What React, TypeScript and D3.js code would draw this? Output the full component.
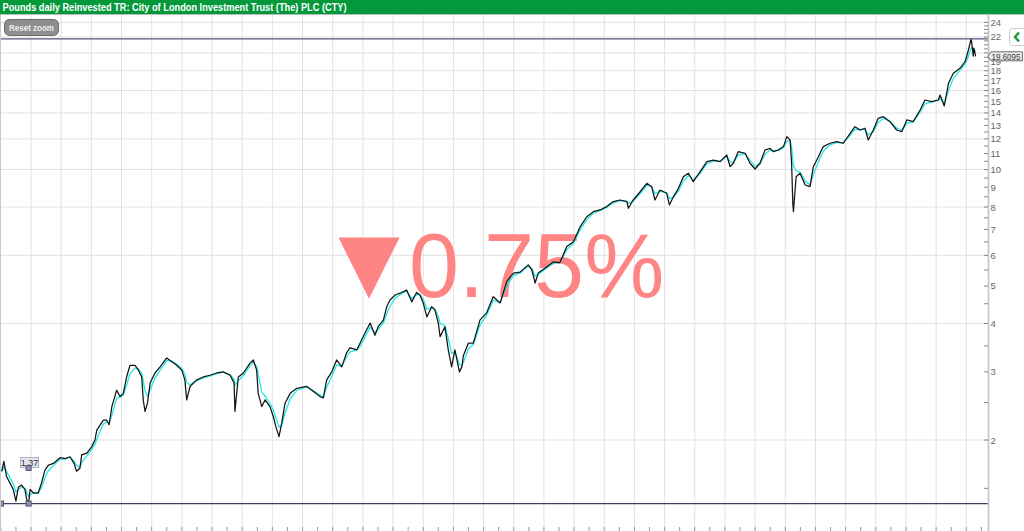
import React from "react";
import * as d3 from "d3";

const title = "Pounds daily Reinvested TR: City of London Investment Trust (The) PLC (CTY)";
const resetLabel = "Reset zoom";
const changeText = "0.75%";
const changeArrow = "▼";

// decimal years
const years = [
  1994.03, 1994.10, 1994.19, 1994.30, 1994.41, 1994.50, 1994.58, 1994.69, 1994.80, 1994.86,
  1994.92, 1994.97, 1995.08, 1995.24, 1995.35, 1995.46, 1995.57, 1995.74, 1995.96, 1996.13,
  1996.29, 1996.43, 1996.51, 1996.62, 1996.68, 1996.85, 1997.01, 1997.12, 1997.18, 1997.40,
  1997.51, 1997.59, 1997.68, 1997.84, 1997.95, 1998.06, 1998.17, 1998.28, 1998.45, 1998.56,
  1998.67, 1998.72, 1998.78, 1998.86, 1998.95, 1999.11, 1999.28, 1999.50, 1999.66, 1999.83,
  2000.00, 2000.10, 2000.16, 2000.27, 2000.49, 2000.71, 2000.93, 2001.16, 2001.37, 2001.60,
  2001.73, 2001.76, 2001.87, 2002.04, 2002.26, 2002.37, 2002.48, 2002.53, 2002.65, 2002.76,
  2002.92, 2003.03, 2003.12, 2003.22, 2003.31, 2003.42, 2003.59, 2003.81, 2004.14, 2004.36,
  2004.58, 2004.69, 2004.80, 2004.97, 2005.13, 2005.30, 2005.46, 2005.57, 2005.80, 2005.91,
  2006.07, 2006.24, 2006.40, 2006.51, 2006.68, 2006.79, 2006.90, 2007.07, 2007.23, 2007.45,
  2007.62, 2007.78, 2007.89, 2008.00, 2008.12, 2008.28, 2008.39, 2008.50, 2008.56, 2008.72,
  2008.83, 2008.94, 2009.05, 2009.20, 2009.28, 2009.33, 2009.50, 2009.66, 2009.88, 2010.10,
  2010.32, 2010.55, 2010.77, 2010.99, 2011.21, 2011.48, 2011.60, 2011.71, 2011.81, 2012.09,
  2012.31, 2012.53, 2012.76, 2012.98, 2013.20, 2013.42, 2013.64, 2013.86, 2014.08, 2014.30,
  2014.52, 2014.75, 2014.80, 2014.96, 2015.19, 2015.41, 2015.57, 2015.68, 2015.85, 2016.07,
  2016.16, 2016.29, 2016.46, 2016.62, 2016.79, 2016.95, 2017.18, 2017.40, 2017.62, 2017.84,
  2018.06, 2018.17, 2018.28, 2018.44, 2018.67, 2018.83, 2019.00, 2019.16, 2019.33, 2019.50,
  2019.60, 2019.77, 2019.94, 2020.05, 2020.16, 2020.21, 2020.25, 2020.27, 2020.36, 2020.49,
  2020.66, 2020.82, 2020.93, 2021.10, 2021.26, 2021.48, 2021.71, 2021.92, 2022.15, 2022.31,
  2022.48, 2022.64, 2022.75, 2022.92, 2023.08, 2023.25, 2023.47, 2023.69, 2023.86, 2024.03,
  2024.24, 2024.47, 2024.63, 2024.85, 2025.07, 2025.13, 2025.27, 2025.41, 2025.57, 2025.79,
  2025.96, 2026.07, 2026.16, 2026.19, 2026.23, 2026.25, 2026.31,
];

const values = [
  1.66, 1.76, 1.61, 1.55, 1.49, 1.39, 1.51, 1.53, 1.49, 1.40,
  1.37, 1.49, 1.46, 1.46, 1.55, 1.67, 1.72, 1.74, 1.80, 1.79,
  1.81, 1.74, 1.66, 1.69, 1.83, 1.85, 1.92, 2.00, 2.12, 2.25,
  2.25, 2.19, 2.44, 2.69, 2.59, 2.64, 2.91, 3.12, 3.12, 3.03,
  2.91, 2.54, 2.37, 2.49, 2.81, 2.98, 3.09, 3.26, 3.19, 3.12,
  3.03, 2.86, 2.54, 2.75, 2.86, 2.91, 2.94, 2.98, 3.00, 2.94,
  2.81, 2.37, 2.91, 2.98, 3.16, 3.22, 3.03, 2.64, 2.44, 2.54,
  2.44, 2.30, 2.16, 2.04, 2.21, 2.49, 2.64, 2.72, 2.75, 2.67,
  2.59, 2.57, 2.86, 3.00, 3.22, 3.09, 3.36, 3.46, 3.42, 3.56,
  3.78, 4.01, 3.73, 3.93, 4.08, 4.42, 4.60, 4.74, 4.79, 4.88,
  4.55, 4.81, 4.74, 4.52, 4.16, 4.42, 4.33, 4.01, 3.70, 3.92,
  3.42, 3.09, 3.42, 3.00, 3.09, 3.30, 3.56, 3.56, 4.08, 4.26,
  4.69, 4.52, 5.14, 5.40, 5.43, 5.67, 5.50, 5.09, 5.40, 5.60,
  5.77, 5.75, 6.32, 6.51, 7.11, 7.55, 7.78, 7.86, 8.02, 8.26,
  8.34, 8.26, 7.94, 8.34, 8.76, 9.21, 9.03, 8.34, 8.85, 8.68,
  8.10, 8.50, 8.94, 9.58, 9.78, 9.30, 9.87, 10.48, 10.58, 10.48,
  10.90, 10.17, 10.38, 11.12, 11.01, 10.38, 10.03, 10.38, 11.23, 11.34,
  11.12, 11.23, 11.46, 12.16, 11.92, 10.38, 8.18, 7.78, 9.58, 9.78,
  9.12, 9.03, 10.17, 10.79, 11.46, 11.69, 11.80, 11.69, 12.40, 12.90,
  12.65, 12.78, 11.92, 12.65, 13.56, 13.69, 13.29, 12.65, 12.52, 13.43,
  13.29, 14.25, 15.12, 14.97, 15.12, 15.57, 14.59, 16.70, 17.73, 18.26,
  18.99, 20.36, 21.74, 20.98, 19.64, 20.60, 19.6095,
];

const yLabelTicks = [2, 3, 4, 5, 6, 7, 8, 9, 10, 11, 12, 13, 14, 15, 16, 17, 18, 19, 22, 24];
const yGridTicks = [2, 4, 6, 8, 10, 12, 14, 16, 18, 20, 22, 24];
const yMinorTicks = [1.5, 2.5, 3.5, 4.5, 5.5, 6.5, 7.5, 8.5, 9.5, 10.5, 11.5, 12.5, 13.5, 14.5, 15.5, 16.5, 17.5, 18.5, 19.5, 20, 20.5, 21, 21.5, 22.5, 23, 23.5];
const xGridYears = d3.range(1995, 2027);
const xMinorYears = d3.range(1994, 2026.6, 0.5);

const W = 1024;
const H = 531;
const plotTop = 15;
const plotBottom = 531;
const plotRight = 988;

export default function App() {
  const x = d3.scaleLinear().domain([1995, 2026]).range([31, 966.3]);
  const y = d3.scaleLog().domain([2, 24]).range([440, 440 - 116.5 * Math.log2(12)]);

  const data = years.map((t, i) => ({ t, v: values[i] }));

  // exponential moving average (time based)
  const tau = 0.14;
  const ma: { t: number; v: number }[] = [];
  data.forEach((d, i) => {
    if (i === 0) ma.push({ t: d.t, v: d.v });
    else {
      const prev = ma[i - 1];
      const a = 1 - Math.exp(-(d.t - data[i - 1].t) / tau);
      ma.push({ t: d.t, v: prev.v + a * (d.v - prev.v) });
    }
  });

  const line = d3
    .line<{ t: number; v: number }>()
    .x((d) => x(d.t))
    .y((d) => y(d.v));

  const maxV = d3.max(values)!;
  const minV = d3.min(values)!;
  const minIdx = values.indexOf(minV);
  const lastV = values[values.length - 1];

  const minX = x(years[minIdx]);
  const minY = y(minV);
  const lastY = y(lastV);

  return (
    <svg
      width={W}
      height={H}
      style={{ position: "absolute", left: 0, top: 0, display: "block", fontFamily: "'Liberation Sans', Arial, sans-serif" }}
    >
      <defs>
        <clipPath id="plotClip">
          <rect x={1} y={plotTop} width={plotRight - 1} height={plotBottom - plotTop} />
        </clipPath>
      </defs>
      <rect x={0} y={0} width={W} height={H} fill="#ffffff" />

      {/* grid */}
      <g clipPath="url(#plotClip)">
        {xGridYears.map((yr) => (
          <line key={"vx" + yr} x1={x(yr)} x2={x(yr)} y1={plotTop} y2={plotBottom} stroke="#e2e2e2" strokeWidth={1} />
        ))}
        {yGridTicks.map((v) => (
          <line key={"hy" + v} x1={0} x2={plotRight} y1={y(v)} y2={y(v)} stroke="#e2e2e2" strokeWidth={1} />
        ))}
        {xMinorYears.map((yr) => (
          <line key={"mx" + yr} x1={x(yr)} x2={x(yr)} y1={527} y2={531} stroke="#999" strokeWidth={1} />
        ))}
      </g>

      {/* big change text */}
      <text x={369} y={289} textAnchor="middle" fontFamily="'DejaVu Sans'" fontSize={80} fill="#ff8585">
        {changeArrow}
      </text>
      <text x={409} y={297} fontSize={90} fill="#ff8585">
        {changeText}
      </text>

      {/* series */}
      <g clipPath="url(#plotClip)">
        <path d={line(ma) || ""} fill="none" stroke="#1fe8e8" strokeWidth={1.3} />
        <path d={line(data) || ""} fill="none" stroke="#141414" strokeWidth={1.25} strokeLinejoin="round" />
        <line x1={0} x2={plotRight} y1={y(maxV)} y2={y(maxV)} stroke="#55557a" strokeWidth={1.3} />
        <line x1={0} x2={plotRight} y1={minY} y2={minY} stroke="#3d3d5c" strokeWidth={1.3} />
      </g>

      {/* min label & handles */}
      <rect x={20.5} y={457.5} width={18} height={10} fill="#e6e6ee" stroke="#b0b0c0" strokeWidth={1} />
      <text x={29.5} y={466} textAnchor="middle" fontSize={9} fill="#333344">
        {d3.format(".2f")(minV)}
      </text>
      <rect x={minX - 2.5} y={465.5} width={5} height={5} fill="#9090b0" stroke="#505070" strokeWidth={1} />
      <rect x={minX - 2.5} y={minY - 2.5} width={5} height={5} fill="#9090b0" stroke="#505070" strokeWidth={1} />
      <rect x={-1.5} y={minY - 2.5} width={5} height={5} fill="#9090b0" stroke="#505070" strokeWidth={1} />

      {/* borders */}
      <line x1={0.5} x2={0.5} y1={plotTop} y2={H} stroke="#c8c8c8" strokeWidth={1} />
      <line x1={0} x2={W} y1={14.5} y2={14.5} stroke="#bdbdbd" strokeWidth={1} />

      {/* right axis */}
      <line x1={plotRight + 0.5} x2={plotRight + 0.5} y1={plotTop} y2={H} stroke="#c4c4c4" strokeWidth={1.6} />
      {yMinorTicks.map((v) => (
        <line key={"mt" + v} x1={plotRight - 4} x2={plotRight} y1={y(v)} y2={y(v)} stroke="#888" strokeWidth={1} />
      ))}
      {yLabelTicks.map((v) => (
        <g key={"yt" + v}>
          <line x1={plotRight - 4} x2={plotRight} y1={y(v)} y2={y(v)} stroke="#888" strokeWidth={1} />
          <text x={plotRight + 2.5} y={y(v) + 3.5} fontSize={9.5} fill="#666">
            {v}
          </text>
        </g>
      ))}

      {/* last value label */}
      <path
        d={`M${plotRight},${lastY} L${plotRight + 3},${lastY - 4.5} L${W - 1.5},${lastY - 4.5} L${W - 1.5},${lastY + 4.5} L${plotRight + 3},${lastY + 4.5} Z`}
        fill="#e8e8e8"
        stroke="#707070"
        strokeWidth={1}
        strokeLinejoin="round"
      />
      <text x={plotRight + 3.5} y={lastY + 3.3} fontSize={9} fill="#444" textLength={29} lengthAdjust="spacingAndGlyphs">
        {d3.format(".4f")(lastV)}
      </text>

      {/* collapse button */}
      <rect x={1009.5} y={28.5} width={16} height={17} rx={3} fill="#ffffff" stroke="#cccccc" strokeWidth={1} />
      <path d="M1019,32.5 L1015,37 L1019,41.5" fill="none" stroke="#1f9a3c" strokeWidth={2.4} />

      {/* header */}
      <rect x={0} y={0} width={W} height={14} fill="#03993a" />
      <text x={2.5} y={10.8} fontSize={10} fontWeight="bold" fill="#ffffff" textLength={344} lengthAdjust="spacingAndGlyphs">
        {title}
      </text>

      {/* reset zoom */}
      <rect x={4.5} y={19.5} width={54} height={16} rx={5} fill="#8e8e8e" stroke="#6a6a6a" strokeWidth={1} />
      <text x={31.5} y={31} textAnchor="middle" fontSize={9.5} fontWeight="bold" fill="#eeeeee" textLength={45} lengthAdjust="spacingAndGlyphs">
        {resetLabel}
      </text>
    </svg>
  );
}
